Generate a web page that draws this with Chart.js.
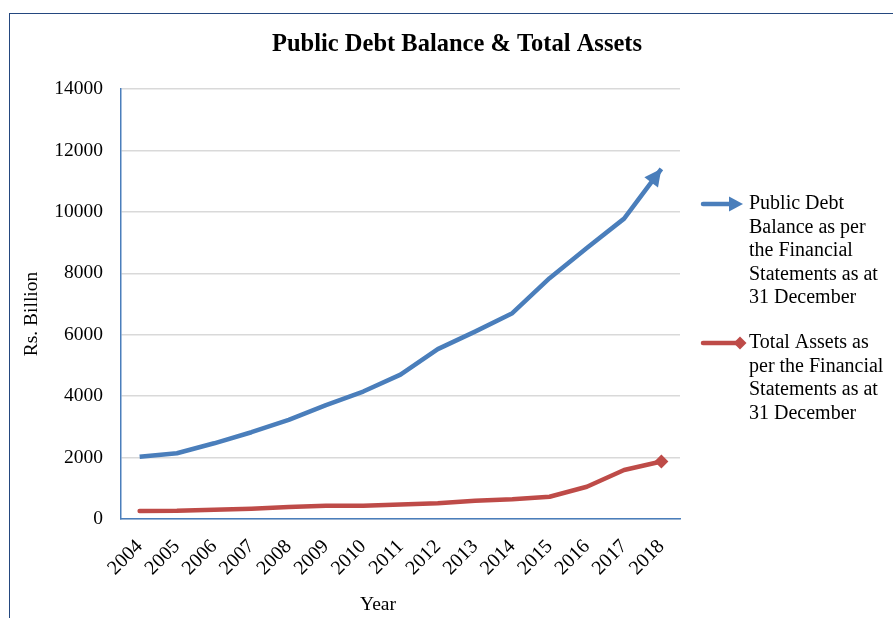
<!DOCTYPE html>
<html>
<head>
<meta charset="utf-8">
<title>Public Debt Balance & Total Assets</title>
<script src="https://cdn.jsdelivr.net/npm/chart.js@4.4.1/dist/chart.umd.min.js"></script>
<style>
  html, body { margin: 0; padding: 0; background: #ffffff; }
  #wrap { position: relative; width: 893px; height: 618px; overflow: hidden; }
  #frame { position: absolute; left: 9px; top: 13px; width: 1000px; height: 700px;
           border-left: 1.5px solid #24487F; border-top: 1.5px solid #24487F; pointer-events: none; }
  canvas { position: absolute; left: 0; top: 0; }
</style>
</head>
<body>
<div id="wrap">
  <canvas id="chart" width="893" height="618"></canvas>
  <div id="frame"></div>
</div>
<script>
// Years on the horizontal axis
const years = ['2004','2005','2006','2007','2008','2009','2010','2011','2012','2013','2014','2015','2016','2017','2018'];
// Rs. Billion, as at 31 December
const publicDebt = [2030, 2140, 2465, 2825, 3225, 3710, 4150, 4700, 5530, 6100, 6700, 7840, 8820, 9780, 11400];
const totalAssets = [260, 265, 300, 335, 390, 430, 430, 475, 510, 595, 640, 725, 1050, 1595, 1870];
// Legend entries, one array of text lines per series
const debtLabel = ['Public Debt', 'Balance as per', 'the Financial', 'Statements as at', '31 December'];
const assetsLabel = ['Total Assets as', 'per the Financial', 'Statements as at', '31 December'];
const chartTitle = 'Public Debt Balance & Total Assets';
const yTitle = 'Rs. Billion';
const xTitle = 'Year';

const BLUE = '#4A7EBB';
const RED = '#BE4B48';
const SERIF = '"Liberation Serif", "Times New Roman", serif';

function arrowHead(ctx, x, y, angle, len, half, color) {
  ctx.save();
  ctx.translate(x, y);
  ctx.rotate(angle);
  ctx.beginPath();
  ctx.moveTo(0, 0);
  ctx.lineTo(-len, -half);
  ctx.lineTo(-len, half);
  ctx.closePath();
  ctx.fillStyle = color;
  ctx.fill();
  ctx.restore();
}

function diamond(ctx, x, y, r, color) {
  ctx.save();
  ctx.beginPath();
  ctx.moveTo(x, y - r);
  ctx.lineTo(x + r, y);
  ctx.lineTo(x, y + r);
  ctx.lineTo(x - r, y);
  ctx.closePath();
  ctx.fillStyle = color;
  ctx.fill();
  ctx.restore();
}

// Arrow at the end of the debt line, title, axis titles and the side legend
const decorations = {
  id: 'decorations',
  afterDatasetsDraw(chart) {
    const ctx = chart.ctx;
    const pts = chart.getDatasetMeta(0).data;
    const a = pts[pts.length - 2], b = pts[pts.length - 1];
    arrowHead(ctx, b.x, b.y, Math.atan2(b.y - a.y, b.x - a.x), 17, 8.5, BLUE);
  },
  afterDraw(chart) {
    const ctx = chart.ctx;
    ctx.save();
    ctx.fillStyle = '#000';
    ctx.textAlign = 'center';
    ctx.textBaseline = 'middle';
    ctx.font = 'bold 24.5px ' + SERIF;
    ctx.fillText(chartTitle, 457, 45);

    ctx.font = '19.5px ' + SERIF;
    ctx.fillText(xTitle, 378, 605);
    ctx.save();
    ctx.translate(32, 314);
    ctx.rotate(-Math.PI / 2);
    ctx.fillText(yTitle, 0, 0);
    ctx.restore();

    // legend
    ctx.textAlign = 'left';
    ctx.font = '20px ' + SERIF;
    const lh = 23.5;
    const lx0 = 703, lx1 = 743, tx = 749;
    let y0 = 204;
    ctx.strokeStyle = BLUE;
    ctx.lineWidth = 4.5;
    ctx.lineCap = 'round';
    ctx.beginPath(); ctx.moveTo(lx0, y0); ctx.lineTo(lx1 - 10, y0); ctx.stroke();
    arrowHead(ctx, lx1, y0, 0, 14, 7.5, BLUE);
    ctx.fillStyle = '#000';
    debtLabel.forEach((t, i) => ctx.fillText(t, tx, y0 + i * lh));

    y0 = 343;
    ctx.strokeStyle = RED;
    ctx.beginPath(); ctx.moveTo(lx0, y0); ctx.lineTo(lx1 - 4, y0); ctx.stroke();
    diamond(ctx, lx1 - 3, y0, 6.5, RED);
    ctx.fillStyle = '#000';
    assetsLabel.forEach((t, i) => ctx.fillText(t, tx, y0 + i * lh));
    ctx.restore();
  }
};

new Chart(document.getElementById('chart'), {
  type: 'line',
  data: {
    labels: years,
    datasets: [
      {
        label: debtLabel.join(' '),
        data: publicDebt,
        borderColor: BLUE,
        backgroundColor: BLUE,
        borderWidth: 4.5,
        borderCapStyle: 'butt',
        borderJoinStyle: 'round',
        pointRadius: 0,
        tension: 0
      },
      {
        label: assetsLabel.join(' '),
        data: totalAssets,
        borderColor: RED,
        backgroundColor: RED,
        borderWidth: 4.5,
        borderCapStyle: 'round',
        borderJoinStyle: 'round',
        pointStyle: 'rectRot',
        pointRadius: ctx => ctx.dataIndex === totalAssets.length - 1 ? 7 : 0,
        pointBorderWidth: 0,
        tension: 0
      }
    ]
  },
  options: {
    responsive: false,
    animation: false,
    devicePixelRatio: 1,
    layout: { padding: { top: 89, right: 213, left: 0, bottom: 0 } },
    plugins: {
      legend: { display: false },
      title: { display: false },
      tooltip: { enabled: false }
    },
    scales: {
      x: {
        type: 'category',
        offset: true,
        grid: { display: false, drawTicks: false },
        border: { display: true, color: BLUE, width: 1.5 },
        ticks: {
          color: '#000',
          font: { family: SERIF, size: 20 },
          minRotation: 45,
          maxRotation: 45,
          autoSkip: false,
          padding: 16
        },
        afterFit(scale) { scale.height = 618 - 519; }
      },
      y: {
        min: 0,
        max: 14000,
        grid: { color: '#D9D9D9', lineWidth: 1.5, drawTicks: false },
        border: { display: true, color: BLUE, width: 1.5 },
        ticks: {
          stepSize: 2000,
          color: '#000',
          font: { family: SERIF, size: 19.5 },
          padding: 18,
          callback: v => String(v)
        },
        afterFit(scale) { scale.width = 121; }
      }
    }
  },
  plugins: [decorations]
});
</script>
</body>
</html>
